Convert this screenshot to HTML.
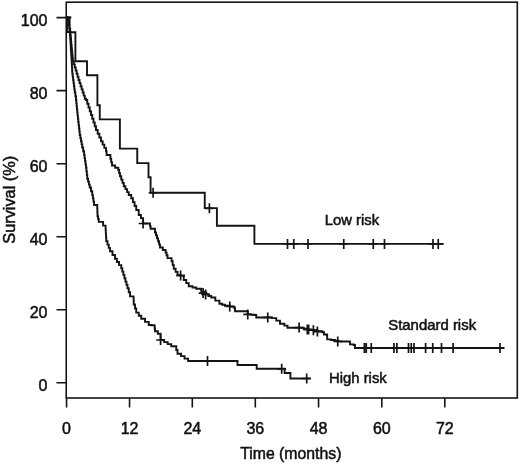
<!DOCTYPE html>
<html><head><meta charset="utf-8"><title>Survival</title>
<style>html,body{margin:0;padding:0;background:#fff;}svg{display:block;will-change:transform;}</style></head>
<body>
<svg width="520" height="465" viewBox="0 0 520 465">
<rect width="520" height="465" fill="#fff"/>
<g fill="none" stroke="#141414" stroke-width="1.60" stroke-linecap="butt" stroke-linejoin="miter">
<rect x="66.25" y="2.20" width="451.05" height="395.80"/>
<path d="M56.5,17.60H66.25M56.5,90.60H66.25M56.5,163.70H66.25M56.5,236.70H66.25M56.5,309.80H66.25M56.5,382.80H66.25M66.55,398.00V407.4M129.55,398.00V407.4M192.30,398.00V407.4M255.30,398.00V407.4M318.55,398.00V407.4M381.80,398.00V407.4M444.80,398.00V407.4"/>
</g>
<g fill="none" stroke="#141414" stroke-width="1.90" stroke-linecap="butt" stroke-linejoin="miter">
<path d="M66.25,17.5 H69.6 V32.25 H75.4 V61.25 H87 V75.3 H97.4 V105.3 H99.75 V119.4 H119.9 V148.6 H137.25 V163.1 H148.5 V177.25 H150.6 V192.75 H204.75 V208.1 H216.9 V225.7 H254.4 V243.9 H443.75"/>
<path d="M66.25,17.50 L68.20,17.50 H68.30 V21.25 H68.40 V25.00 H69.30 V28.62 H70.20 V32.25 H70.47 V35.44 H70.75 V38.62 H71.03 V41.81 H71.30 V45.00 H71.62 V48.25 H71.94 V51.50 H72.26 V54.75 H72.58 V58.00 H72.90 V61.25 H73.83 V64.38 H74.77 V67.50 H75.70 V70.62 H76.63 V73.75 H77.57 V76.88 H78.50 V80.00 H79.54 V83.12 H80.58 V86.25 H81.62 V89.38 H82.67 V92.50 H83.71 V95.62 H84.75 V98.75 H86.00 V100.00 H87.25 V103.75 H88.50 V107.50 H89.75 V111.25 H91.00 V115.00 H92.25 V118.75 H93.50 V122.50 H94.75 V126.25 H96.00 V130.00 H97.67 V133.75 H99.33 V137.50 H101.00 V141.25 H102.67 V144.58 H104.33 V147.92 H106.00 V151.25 H106.60 V155.00 H110.40 V158.75 H111.20 V162.12 H112.00 V165.50 H115.15 V167.75 H118.30 V170.00 H119.15 V173.12 H120.00 V176.25 H121.25 V179.58 H122.50 V182.92 H123.75 V186.25 H125.42 V189.17 H127.08 V192.08 H128.75 V195.00 H131.25 V198.20 H132.92 V202.13 H134.58 V206.07 H136.25 V210.00 H138.75 V215.00 H140.93 V218.12 H143.10 V221.25 L143.10,223.50 L149.40,223.50 H150.00 V226.12 H150.60 V228.75 H155.00 V232.50 H156.03 V235.42 H157.07 V238.33 H158.10 V241.25 H159.05 V244.38 H160.00 V247.50 H162.80 V250.00 H165.60 V252.50 H166.55 V255.30 H167.50 V258.10 H171.60 V261.25 H172.68 V265.00 H173.75 V268.75 H175.62 V271.88 H177.50 V275.00 H180.60 V275.60 H183.75 V280.00 H186.25 V283.12 H188.75 V286.25 H192.50 V287.50 H196.25 V288.75 H201.25 V291.90 H205.60 V294.40 H208.43 V295.95 H211.25 V297.50 H215.32 V300.62 H219.40 V303.75 H222.20 V304.77 H225.00 V305.80 H230.00 V306.50 H233.75 V307.50 H235.00 V311.25 L243.75,311.25 H247.75 V314.40 H251.07 V314.70 H254.40 V315.00 H256.25 V317.50 L267.50,317.50 H271.90 V318.10 H276.25 V320.60 H280.00 V323.75 H284.40 V325.60 H287.50 V327.80 L299.10,327.80 H303.75 V328.60 H307.90 V329.50 H310.65 V329.85 H313.40 V330.20 H317.40 V331.20 L319.30,331.20 H322.40 V332.30 H324.00 V334.50 H327.00 V335.20 H327.20 V339.40 H331.10 V340.00 H335.00 V340.60 H337.75 V341.40 H341.00 V341.43 H344.25 V341.47 H347.50 V341.50 H350.00 V344.40 H353.75 V345.00 H355.00 V348.00 L504.25,348.00"/>
<path d="M66.25,17.50 L67.00,17.50 L67.00,32.00 L69.80,32.00 H70.00 V35.25 H70.20 V38.50 H70.40 V41.75 H70.60 V45.00 H70.80 V48.25 H71.00 V51.50 H71.20 V54.75 H71.40 V58.00 H71.60 V61.25 H71.77 V64.38 H71.95 V67.50 H72.12 V70.62 H72.30 V73.75 H72.71 V76.88 H73.12 V80.00 H73.53 V83.12 H73.93 V86.25 H74.34 V89.38 H74.75 V92.50 H75.38 V96.25 H76.00 V100.00 H76.32 V103.12 H76.63 V106.25 H76.95 V109.38 H77.27 V112.50 H77.58 V115.62 H77.90 V118.75 H78.27 V122.00 H78.64 V125.25 H79.01 V128.50 H79.38 V131.75 H79.75 V135.00 H80.38 V138.12 H81.00 V141.25 H81.62 V144.38 H82.25 V147.50 H83.17 V151.25 H84.10 V155.00 H84.57 V158.12 H85.05 V161.25 H85.53 V164.38 H86.00 V167.50 H86.42 V171.25 H86.83 V175.00 H87.25 V178.75 H88.08 V181.67 H88.92 V184.58 H89.75 V187.50 H91.00 V191.25 H92.25 V195.00 H92.87 V198.33 H93.48 V201.67 H94.10 V205.00 H97.25 V208.75 H97.38 V212.50 H97.50 V216.25 H98.12 V219.07 H98.75 V221.90 H103.10 V225.60 H105.60 V229.40 H105.82 V233.35 H106.03 V237.30 H106.25 V241.25 H107.50 V244.58 H108.75 V247.92 H110.00 V251.25 H112.50 V255.00 H115.00 V258.75 H116.90 V262.00 H119.08 V265.12 H121.25 V268.25 H122.30 V271.58 H123.35 V274.92 H124.40 V278.25 H125.43 V281.58 H126.47 V284.92 H127.50 V288.25 H128.75 V292.32 H130.00 V296.40 H133.50 V297.60 H133.62 V301.05 H133.75 V304.50 H135.00 V308.55 H136.25 V312.60 H138.75 V315.68 H141.25 V318.75 H145.00 V321.88 H148.75 V325.00 H151.57 V325.30 H154.40 V325.60 H154.70 V328.43 H155.00 V331.25 H157.80 V333.75 H160.60 V336.25 L160.60,340.00 H164.15 V342.08 H167.70 V344.17 H171.25 V346.25 H176.25 V350.00 H177.50 V353.75 H181.03 V356.17 H184.57 V358.58 H188.10 V361.00 H237.5 V365 H256.7 V368.8 H284.6 V373 H290.4 V378.5 H310.6"/>
<path d="M66.25,17.5H71.4"/>
<path stroke-width="1.7" d="M153.10,187.75V197.75M148.70,192.75H157.50M209.40,203.30V213.30M205.00,208.30H213.80M287.50,238.90V248.90M283.10,243.90H291.90M293.75,238.90V248.90M289.35,243.90H298.15M308.00,238.90V248.90M303.60,243.90H312.40M343.75,238.90V248.90M339.35,243.90H348.15M373.25,238.90V248.90M368.85,243.90H377.65M384.50,238.90V248.90M380.10,243.90H388.90M433.00,238.90V248.90M428.60,243.90H437.40M438.25,238.90V248.90M433.85,243.90H442.65M143.10,218.50V228.50M138.70,223.50H147.50M180.60,270.60V280.60M176.20,275.60H185.00M203.10,288.10V298.10M198.70,293.10H207.50M205.60,289.40V299.40M201.20,294.40H210.00M229.75,301.50V311.50M225.35,306.50H234.15M247.75,309.40V319.40M243.35,314.40H252.15M267.75,312.40V322.40M263.35,317.40H272.15M299.10,322.60V332.60M294.70,327.60H303.50M307.30,324.50V334.50M302.90,329.50H311.70M308.60,324.60V334.60M304.20,329.60H313.00M313.40,325.20V335.20M309.00,330.20H317.80M317.40,326.60V336.60M313.00,331.60H321.80M337.75,336.40V346.40M333.35,341.40H342.15M364.40,343.00V353.00M360.00,348.00H368.80M366.25,343.00V353.00M361.85,348.00H370.65M371.25,343.00V353.00M366.85,348.00H375.65M394.00,343.00V353.00M389.60,348.00H398.40M396.90,343.00V353.00M392.50,348.00H401.30M408.50,343.00V353.00M404.10,348.00H412.90M411.25,343.00V353.00M406.85,348.00H415.65M414.00,343.00V353.00M409.60,348.00H418.40M425.60,343.00V353.00M421.20,348.00H430.00M432.75,343.00V353.00M428.35,348.00H437.15M441.50,343.00V353.00M437.10,348.00H445.90M453.10,343.00V353.00M448.70,348.00H457.50M500.00,343.00V353.00M495.60,348.00H504.40M160.60,335.00V345.00M156.20,340.00H165.00M207.50,356.00V366.00M203.10,361.00H211.90M281.70,363.80V373.80M277.30,368.80H286.10M306.70,373.50V383.50M302.30,378.50H311.10"/>
</g>
<g font-family="'Liberation Sans', sans-serif" fill="#111" stroke="#111" stroke-width="0.5">
<text transform="translate(47.50,25.70)" font-size="16.0" text-anchor="end">100</text>
<text transform="translate(47.50,98.70)" font-size="16.0" text-anchor="end">80</text>
<text transform="translate(47.50,171.80)" font-size="16.0" text-anchor="end">60</text>
<text transform="translate(47.50,244.80)" font-size="16.0" text-anchor="end">40</text>
<text transform="translate(47.50,317.90)" font-size="16.0" text-anchor="end">20</text>
<text transform="translate(47.50,390.90)" font-size="16.0" text-anchor="end">0</text>
<text transform="translate(66.55,434.00)" font-size="16.0" text-anchor="middle">0</text>
<text transform="translate(129.55,434.00)" font-size="16.0" text-anchor="middle">12</text>
<text transform="translate(192.30,434.00)" font-size="16.0" text-anchor="middle">24</text>
<text transform="translate(255.30,434.00)" font-size="16.0" text-anchor="middle">36</text>
<text transform="translate(318.55,434.00)" font-size="16.0" text-anchor="middle">48</text>
<text transform="translate(381.80,434.00)" font-size="16.0" text-anchor="middle">60</text>
<text transform="translate(444.80,434.00)" font-size="16.0" text-anchor="middle">72</text>
<text transform="translate(324.70,225.00) scale(1.024,1)" font-size="14.5" text-anchor="start">Low risk</text>
<text transform="translate(388.20,330.00) scale(1.030,1)" font-size="14.5" text-anchor="start">Standard risk</text>
<text transform="translate(329.00,383.00) scale(1.025,1)" font-size="14.5" text-anchor="start">High risk</text>
<text transform="translate(290.80,458.80)" font-size="15.8" text-anchor="middle">Time (months)</text>
<text transform="translate(14.60,199.80) rotate(-90) scale(1.040,1)" font-size="15.7" text-anchor="middle">Survival (%)</text>
</g></svg>
</body></html>
